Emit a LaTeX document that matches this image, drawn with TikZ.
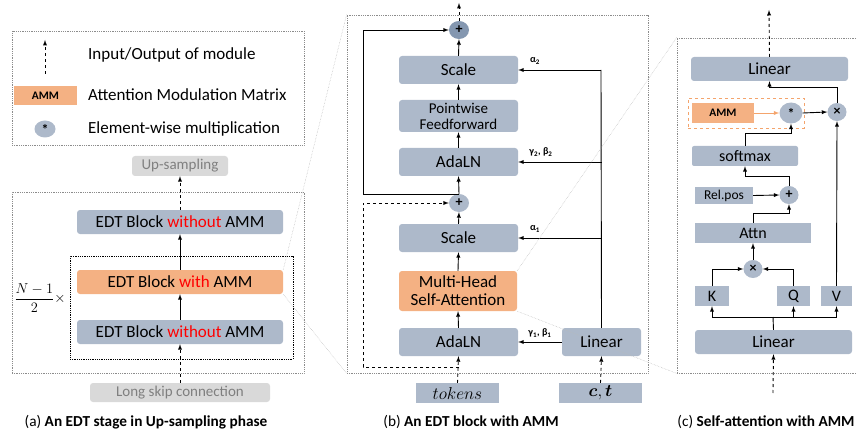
\documentclass[tikz,border=0pt]{standalone}
\usepackage{amsmath}
\usepackage{fontspec}
\setmainfont{Carlito}
\usetikzlibrary{arrows,shapes.geometric,positioning}

\definecolor{blockgray}{HTML}{ADB9CA}
\definecolor{blockorange}{HTML}{F4B183}
\definecolor{plusdark}{HTML}{8497B0}
\definecolor{lightbox}{HTML}{D9D9D9}
\definecolor{textgray}{HTML}{7F7F7F}
\definecolor{framegray}{HTML}{8C8C8C}
\definecolor{ammline}{HTML}{F4A46C}

\begin{document}
\begin{tikzpicture}[x=1pt,y=-1pt,
	blk/.style={fill=blockgray, rounded corners=3pt, inner sep=0pt, align=center, font=\fontsize{17}{18}\selectfont},
	orblk/.style={blk, fill=blockorange},
	sqblk/.style={fill=blockgray, inner sep=0pt, font=\fontsize{16}{18}\selectfont},
	opr/.style={ellipse, fill=blockgray, inner sep=0pt, minimum width=20, minimum height=18, font=\bfseries\fontsize{14}{14}\selectfont},
	frm/.style={draw=framegray, densely dotted, line width=0.8pt, inner sep=0pt},
	zoomline/.style={draw=gray!55, densely dotted, line width=0.5pt},
	lnk/.style={-latex, line width=0.9pt},
	iolnk/.style={lnk, dashed},
	lbl/.style={font=\bfseries\fontsize{10}{11}\selectfont, inner sep=0pt},
	txt/.style={anchor=west, inner sep=0pt, font=\fontsize{17}{19}\selectfont},
	capline/.style={inner sep=0pt, font=\fontsize{15.3}{17}\selectfont}]
	
	\useasboundingbox (0,0) rectangle (857,433);
	
	%Frames
	\node (frameLegend) at (158,88) [frm, minimum width=292, minimum height=114] {};
	\node (frameA) at (158,282.5) [frm, minimum width=292, minimum height=181] {};
	\node (frameRepeat) at (181.5,307.5) [draw, densely dotted, line width=0.8pt, inner sep=0pt, minimum width=223, minimum height=103] {};
	\node (frameB) at (497.5,194) [frm, minimum width=301, minimum height=358] {};
	\node (frameC) at (768.5,205.5) [frm, minimum width=183, minimum height=335] {};
	
	%Legend
	\coordinate (legIn) at (45,74);
	\coordinate (legOut) at (45,40);
	\draw[iolnk] (legIn) -- (legOut);
	\node (legIO) at (88,55) [txt] {Input/Output of module};
	\node (legAMM) at (45.5,95.5) [fill=blockorange, inner sep=0pt, minimum width=63, minimum height=19, font=\bfseries\fontsize{11.5}{13}\selectfont] {AMM};
	\node (legAMMtext) at (88,95) [txt] {Attention Modulation Matrix};
	\node (legMul) at (45,129) [opr, minimum width=21, minimum height=17] {*};
	\node (legMultext) at (88,129) [txt] {Element-wise multiplication};
	
	%Stage (a)
	\node (upSampling) at (180,166) [fill=lightbox, text=textgray, rounded corners=3pt, inner sep=0pt, minimum width=96, minimum height=20, font=\fontsize{15}{17}\selectfont] {Up-sampling};
	\node (topBlock) at (180,222) [blk, minimum width=206, minimum height=24] {EDT Block \textcolor{red}{without} AMM};
	\node (ammBlock) at (180,282) [orblk, minimum width=206, minimum height=24] {EDT Block \textcolor{red}{with} AMM};
	\node (botBlock) at (180,332) [blk, minimum width=206, minimum height=24] {EDT Block \textcolor{red}{without} AMM};
	\node (repeatLabel) at (40,298) [inner sep=0pt, font=\fontsize{13.5}{15}\selectfont] {$\dfrac{N-1}{2}\times$};
	\node (longSkip) at (180,392.5) [fill=lightbox, text=textgray, rounded corners=3pt, inner sep=0pt, minimum width=180, minimum height=19, font=\fontsize{15}{17}\selectfont] {Long skip connection};
	\node (capA) at (146,422) [capline] {(a) \textbf{An EDT stage in Up-sampling phase}};
	
	\draw[iolnk] (longSkip.north) -- (botBlock.south);
	\draw[lnk] (botBlock.north) -- (ammBlock.south);
	\draw[lnk] (ammBlock.north) -- (topBlock.south);
	\draw[iolnk] (topBlock.north) -- (upSampling.south);
	
	%Zoom lines
	\draw[zoomline] (ammBlock.north east) -- (frameB.north west);
	\draw[zoomline] (ammBlock.south east) -- (frameB.south west);
	
	%EDT block (b)
	\node (plusTop) at (459,30) [opr, fill=plusdark] {+};
	\node (scaleTop) at (458.5,70) [blk, minimum width=119, minimum height=28] {Scale};
	\node (ffn) at (458.5,116) [blk, minimum width=119, minimum height=32, font=\fontsize{15}{16}\selectfont] {Pointwise\\Feedforward};
	\node (adaTop) at (458.5,162) [blk, minimum width=119, minimum height=28] {AdaLN};
	\node (plusBot) at (459,203) [opr] {+};
	\node (scaleBot) at (458.5,238) [blk, minimum width=119, minimum height=28] {Scale};
	\node (mhsa) at (458,291) [orblk, minimum width=118, minimum height=40] {Multi-Head\\Self-Attention};
	\node (adaBot) at (458.5,342) [blk, minimum width=119, minimum height=28] {AdaLN};
	\node (tokens) at (457.5,393) [sqblk, minimum width=83, minimum height=20, font=\fontsize{17}{18}\selectfont] {$tokens$};
	\node (linearB) at (601.5,342) [blk, minimum width=79, minimum height=28] {Linear};
	\node (ctIn) at (600.5,393) [sqblk, minimum width=83, minimum height=20, font=\fontsize{17}{18}\selectfont] {$\boldsymbol{c},\boldsymbol{t}$};
	\node (capB) at (471,422) [capline] {(b) \textbf{An EDT block with AMM}};
	
	\node (alphaTwo) at (535,61) [lbl] {α\textsubscript{2}};
	\node (gbTwo) at (541,152) [lbl] {γ\textsubscript{2}, β\textsubscript{2}};
	\node (alphaOne) at (535,229) [lbl] {α\textsubscript{1}};
	\node (gbOne) at (540,333) [lbl] {γ\textsubscript{1}, β\textsubscript{1}};
	
	\coordinate (outB) at (459,3);
	\coordinate (resIn) at (459,367);
	\coordinate (resLeft) at (363,367);
	\coordinate (skipOut) at (459,194);
	\coordinate (skipLeft) at (363,194);
	\coordinate (condTop) at (601,70);
	
	\draw[iolnk] (tokens.north) -- (adaBot.south);
	\draw[lnk] (adaBot.north) -- (mhsa.south);
	\draw[lnk] (mhsa.north) -- (scaleBot.south);
	\draw[lnk] (scaleBot.north) -- (plusBot.south);
	\draw[lnk] (plusBot.north) -- (adaTop.south);
	\draw[lnk] (adaTop.north) -- (ffn.south);
	\draw[lnk] (ffn.north) -- (scaleTop.south);
	\draw[lnk] (scaleTop.north) -- (plusTop.south);
	\draw[iolnk] (plusTop.north) -- (outB);
	\draw[iolnk] (resIn) -- (resLeft) |- (plusBot.west);
	\draw[lnk] (skipOut) -- (skipLeft) |- (plusTop.west);
	
	\draw[iolnk] (ctIn.north) -- (linearB.south);
	\draw[lnk] (linearB.west) -- (adaBot.east);
	\draw[line width=0.9pt] (linearB.north) -- (condTop);
	\draw[lnk] (condTop) -- (scaleTop.east);
	\draw[lnk] (linearB |- adaTop) -- (adaTop.east);
	\draw[lnk] (linearB |- scaleBot) -- (scaleBot.east);
	
	%Zoom lines
	\draw[zoomline] (mhsa.north east) -- (frameC.north west);
	\draw[zoomline] (mhsa.south east) -- (frameC.south west);
	
	%Self-attention (c)
	\node (linTopC) at (769.5,69) [blk, minimum width=157, minimum height=24] {Linear};
	\node (ammGroup) at (746,113) [draw=ammline, dashed, line width=0.7pt, inner sep=0pt, minimum width=116, minimum height=30] {};
	\node (ammC) at (723,113) [fill=blockorange, inner sep=0pt, minimum width=62, minimum height=20, font=\bfseries\fontsize{11.5}{13}\selectfont] {AMM};
	\node (starC) at (791,113) [opr, minimum width=23, minimum height=21] {*};
	\node (mulTop) at (837,112) [opr, minimum width=19, minimum height=18] {×};
	\node (softmaxC) at (745,156) [blk, rounded corners=2pt, minimum width=106, minimum height=20, font=\fontsize{16}{18}\selectfont] {softmax};
	\node (relPos) at (724,195.5) [sqblk, minimum width=58, minimum height=17, font=\fontsize{13.5}{15}\selectfont] {Rel.pos};
	\node (plusC) at (789,195) [opr, minimum width=19, minimum height=18] {+};
	\node (attnC) at (753,233) [sqblk, minimum width=116, minimum height=20] {Attn};
	\node (mulMid) at (753,269) [opr, minimum width=19, minimum height=18] {×};
	\node (kBox) at (712,296) [sqblk, minimum width=34, minimum height=20] {K};
	\node (qBox) at (793.5,296) [sqblk, minimum width=33, minimum height=20] {Q};
	\node (vBox) at (836.5,296) [sqblk, minimum width=31, minimum height=20] {V};
	\node (linBotC) at (773.5,342) [blk, minimum width=157, minimum height=24] {Linear};
	\node (capC) at (766,422) [capline] {(c) \textbf{Self-attention with AMM}};
	
	\coordinate (inC) at (773,393);
	\coordinate (outC) at (769,10);
	\coordinate (splitC) at (773,317);
	
	\draw[iolnk] (inC) -- (linBotC.south);
	\draw[line width=0.9pt] (linBotC.north) -- (splitC);
	\draw[lnk] (splitC) -| (kBox.south);
	\draw[lnk] (splitC) -| (qBox.south);
	\draw[lnk] (splitC) -| (vBox.south);
	\draw[lnk] (kBox.north) |- (mulMid.west);
	\draw[lnk] (qBox.north) |- (mulMid.east);
	\draw[lnk] (mulMid.north) -- (attnC.south);
	\draw[lnk] (attnC.north) -- ++(0,-9) -| (plusC.south);
	\draw[lnk] (relPos.east) -- (plusC.west);
	\draw[lnk] (plusC.north) -- ++(0,-9) -| (softmaxC.south);
	\draw[lnk] (softmaxC.north) -- ++(0,-12) -| (starC.south);
	\draw[-latex, line width=0.9pt, draw=ammline] (ammC.east) -- (starC.west);
	\draw[lnk] (starC.east) -- (mulTop.west);
	\draw[lnk] (vBox.north) -- (mulTop.south);
	\draw[lnk] (mulTop.north) -- ++(0,-15) -| (linTopC.south);
	\draw[iolnk] (linTopC.north) -- (outC);
	
\end{tikzpicture}
\end{document}
